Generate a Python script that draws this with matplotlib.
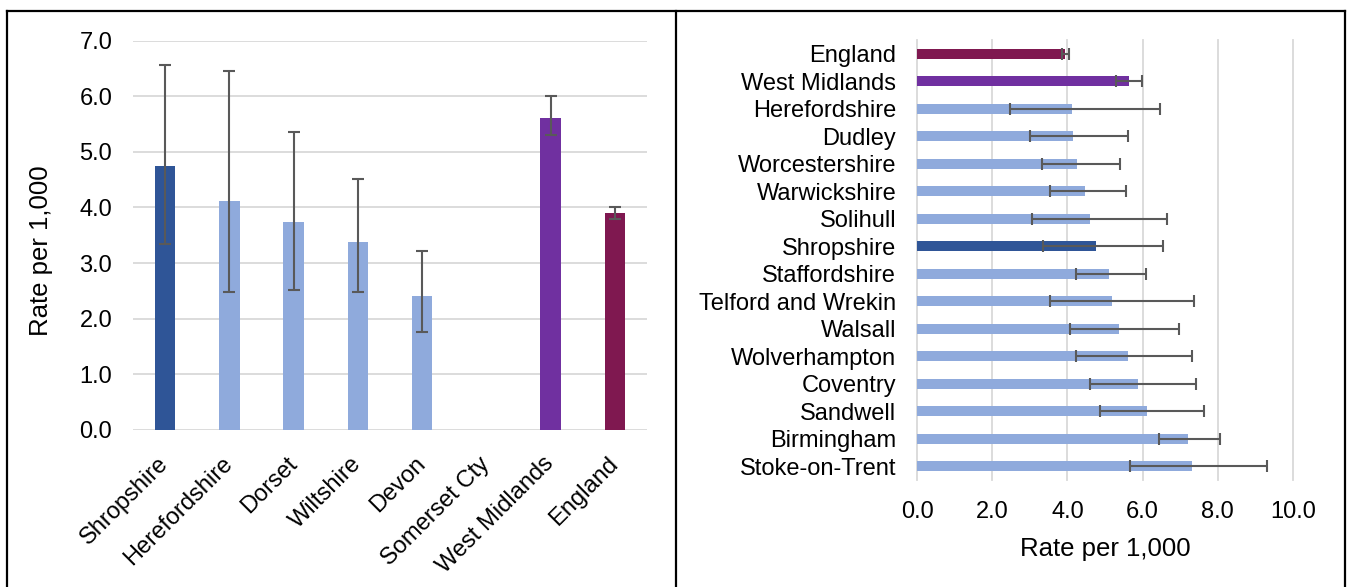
import matplotlib
matplotlib.use("Agg")
import matplotlib.pyplot as plt
from matplotlib.lines import Line2D
import numpy as np

plt.rcParams['font.family'] = ['Liberation Sans', 'DejaVu Sans']

# ---- Left chart data ----
left_cats = ["Shropshire", "Herefordshire", "Dorset", "Wiltshire", "Devon",
             "Somerset Cty", "West Midlands", "England"]
left_vals = [4.75, 4.12, 3.74, 3.38, 2.40, np.nan, 5.61, 3.90]
left_lo = [3.35, 2.48, 2.52, 2.48, 1.76, np.nan, 5.31, 3.80]
left_hi = [6.56, 6.46, 5.35, 4.51, 3.21, np.nan, 6.01, 4.00]
left_yticks = [0.0, 1.0, 2.0, 3.0, 4.0, 5.0, 6.0, 7.0]

# ---- Right chart data ----
right_cats = ["England", "West Midlands", "Herefordshire", "Dudley", "Worcestershire",
              "Warwickshire", "Solihull", "Shropshire", "Staffordshire",
              "Telford and Wrekin", "Walsall", "Wolverhampton", "Coventry",
              "Sandwell", "Birmingham", "Stoke-on-Trent"]
right_vals = [3.93, 5.63, 4.12, 4.16, 4.26, 4.46, 4.60, 4.75, 5.11, 5.18, 5.36,
              5.61, 5.89, 6.13, 7.20, 7.32]
right_lo = [3.85, 5.29, 2.48, 3.00, 3.32, 3.53, 3.05, 3.34, 4.24, 3.53, 4.06,
            4.22, 4.59, 4.86, 6.44, 5.67]
right_hi = [4.03, 5.98, 6.45, 5.61, 5.40, 5.56, 6.65, 6.55, 6.09, 7.36, 6.97,
            7.31, 7.42, 7.64, 8.05, 9.31]
right_xticks = [0.0, 2.0, 4.0, 6.0, 8.0, 10.0]

DARK = "#2F5597"
LIGHT = "#8FAADC"
PURPLE = "#7030A0"
MAROON = "#7F1850"
ERR = "#595959"
GRID = "#D9D9D9"

def color_for(name):
    if name == "Shropshire":
        return DARK
    if name == "West Midlands":
        return PURPLE
    if name == "England":
        return MAROON
    return LIGHT

W, H = 1348, 587
fig = plt.figure(figsize=(W / 100, H / 100), dpi=100)

# ---- Left axes ----
axL = fig.add_axes([133 / W, 1 - 430 / H, 514 / W, 389.5 / H])
xl = np.arange(len(left_cats))
lv = np.array(left_vals)
axL.bar(xl, np.nan_to_num(lv), width=0.32, color=[color_for(c) for c in left_cats], zorder=2)
mask = ~np.isnan(lv)
err_lo = lv - np.array(left_lo)
err_hi = np.array(left_hi) - lv
axL.errorbar(xl[mask], lv[mask], yerr=[err_lo[mask], err_hi[mask]], fmt="none",
             ecolor=ERR, elinewidth=1.5, capsize=4.5, capthick=1.5, zorder=3)
axL.set_xlim(-0.5, len(left_cats) - 0.5)
axL.set_ylim(0, 7)
axL.set_yticks(left_yticks)
axL.set_yticklabels([f"{v:.1f}" for v in left_yticks])
axL.yaxis.grid(True, color=GRID, linewidth=1.3, zorder=0)
axL.set_axisbelow(True)
for s in axL.spines.values():
    s.set_visible(False)
axL.tick_params(axis="both", length=0, labelsize=17, pad=15)
axL.set_xticks(xl)
axL.set_xticklabels(left_cats, rotation=45, ha="right", va="center", rotation_mode="anchor")
axL.tick_params(axis="x", pad=22)
axL.set_ylabel("Rate per 1,000", fontsize=18.5)
axL.yaxis.set_label_coords(-0.155, 0.46)

# ---- Right axes ----
axR = fig.add_axes([917 / W, 1 - 480 / H, 376 / W, 440 / H])
yr = np.arange(len(right_cats))
rv = np.array(right_vals)
axR.barh(yr, rv, height=0.36, color=[color_for(c) for c in right_cats], zorder=2)
axR.errorbar(rv, yr, xerr=[rv - np.array(right_lo), np.array(right_hi) - rv], fmt="none",
             ecolor=ERR, elinewidth=1.5, capsize=4.3, capthick=1.5, zorder=3)
axR.set_ylim(len(right_cats) - 0.5, -0.5)
axR.set_xlim(0, 10)
axR.set_xticks(right_xticks)
axR.set_xticklabels([f"{v:.1f}" for v in right_xticks])
axR.set_yticks(yr)
axR.set_yticklabels(right_cats)
axR.xaxis.grid(True, color=GRID, linewidth=1.3, zorder=0, clip_on=False)
axR.set_axisbelow(True)
for s in axR.spines.values():
    s.set_visible(False)
axR.tick_params(axis="both", length=0, labelsize=17, pad=15)
axR.set_xlabel("Rate per 1,000", fontsize=18.5, labelpad=10)

# ---- Panel borders ----
def fx(px):
    return px / W

def fy(py):
    return 1 - py / H

border_kw = dict(transform=fig.transFigure, color="black", linewidth=1.6)
fig.add_artist(Line2D([fx(7), fx(1345)], [fy(11), fy(11)], **border_kw))
for xp in (7, 676, 1345):
    fig.add_artist(Line2D([fx(xp), fx(xp)], [fy(11), fy(600)], **border_kw))

fig.savefig("out.png", dpi=100)
